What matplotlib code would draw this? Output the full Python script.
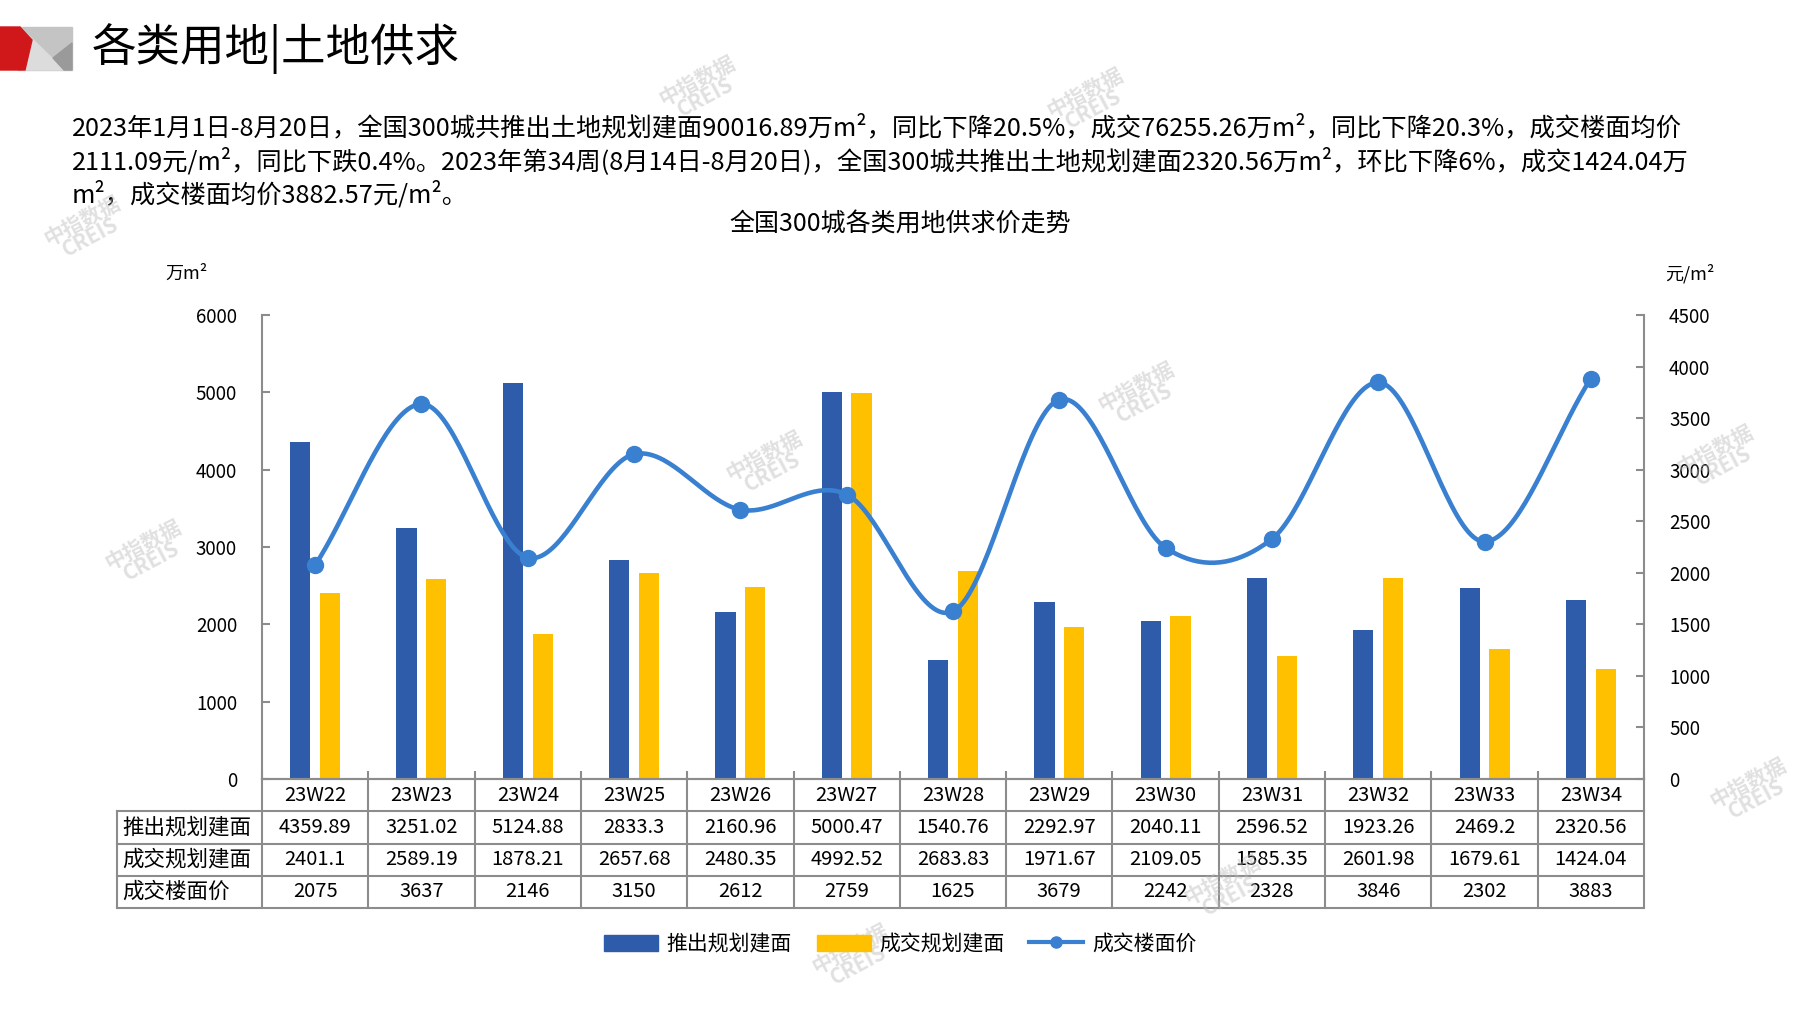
"""Land supply/transaction/price chart for 300 cities, weeks 23W22-23W34."""
import matplotlib
matplotlib.use("Agg")
import matplotlib.pyplot as plt
from matplotlib.patches import Patch, Polygon
from matplotlib.lines import Line2D
import numpy as np

plt.rcParams['font.family'] = ['Noto Sans CJK SC', 'DejaVu Sans']

weeks = ["23W22", "23W23", "23W24", "23W25", "23W26", "23W27", "23W28",
         "23W29", "23W30", "23W31", "23W32", "23W33", "23W34"]
supply = [4359.89, 3251.02, 5124.88, 2833.3, 2160.96, 5000.47, 1540.76,
          2292.97, 2040.11, 2596.52, 1923.26, 2469.2, 2320.56]
deals = [2401.1, 2589.19, 1878.21, 2657.68, 2480.35, 4992.52, 2683.83,
         1971.67, 2109.05, 1585.35, 2601.98, 1679.61, 1424.04]
price = [2075, 3637, 2146, 3150, 2612, 2759, 1625, 3679, 2242, 2328, 3846,
         2302, 3883]
supply_txt = ["4359.89", "3251.02", "5124.88", "2833.3", "2160.96", "5000.47",
              "1540.76", "2292.97", "2040.11", "2596.52", "1923.26", "2469.2",
              "2320.56"]
deals_txt = ["2401.1", "2589.19", "1878.21", "2657.68", "2480.35", "4992.52",
             "2683.83", "1971.67", "2109.05", "1585.35", "2601.98", "1679.61",
             "1424.04"]
row_names = ["推出规划建面", "成交规划建面", "成交楼面价"]

BLUE = "#2E5BAA"
YELLOW = "#FFC000"
LINE = "#3A80D0"
GRID = "#8C8C8C"
NUM_FONT = ['Liberation Sans Narrow', 'Noto Sans CJK SC']
W, H = 1797, 1010


def smooth(xs, ys, n=40):
    """Catmull-Rom style curve through the points (like Excel smoothed line)."""
    p = np.column_stack([xs, ys]).astype(float)
    m = np.zeros_like(p)
    m[1:-1] = (p[2:] - p[:-2]) / 2
    m[0] = p[1] - p[0]
    m[-1] = p[-1] - p[-2]
    out = []
    t = np.linspace(0, 1, n)[:, None]
    for i in range(len(p) - 1):
        h00 = 2 * t**3 - 3 * t**2 + 1
        h10 = t**3 - 2 * t**2 + t
        h01 = -2 * t**3 + 3 * t**2
        h11 = t**3 - t**2
        seg = h00 * p[i] + h10 * m[i] + h01 * p[i + 1] + h11 * m[i + 1]
        out.append(seg if i == 0 else seg[1:])
    out = np.vstack(out)
    return out[:, 0], out[:, 1]


fig = plt.figure(figsize=(W / 100, H / 100), dpi=100)

# logo
logo = fig.add_axes([0, 1 - 72 / H, 74 / W, 46 / H])
logo.set_xlim(0, 74)
logo.set_ylim(72, 26)
logo.axis("off")
logo.add_patch(Polygon([(18, 27), (72, 27), (72, 70), (18, 70)], color="#C4C4C4"))
logo.add_patch(Polygon([(20, 27), (64, 70), (22, 70)], color="#DCDCDC"))
logo.add_patch(Polygon([(72, 43), (72, 70), (64, 70), (53, 58)], color="#9A9A9A"))
logo.add_patch(Polygon([(0, 27), (20, 27), (32, 40), (25, 70), (0, 70)], color="#D0181B"))

fig.text(92 / W, 1 - 49 / H, "各类用地|土地供求", fontsize=32, va="center", ha="left")

para = ["2023年1月1日-8月20日，全国300城共推出土地规划建面90016.89万m²，同比下降20.5%，成交76255.26万m²，同比下降20.3%，成交楼面均价",
        "2111.09元/m²，同比下跌0.4%。2023年第34周(8月14日-8月20日)，全国300城共推出土地规划建面2320.56万m²，环比下降6%，成交1424.04万",
        "m²，成交楼面均价3882.57元/m²。"]
for i, line in enumerate(para):
    fig.text(72 / W, 1 - (128 + 33.5 * i) / H, line, fontsize=18.2,
             va="center", ha="left", family=NUM_FONT)

fig.text(900 / W, 1 - 225 / H, "全国300城各类用地供求价走势", fontsize=18,
         ha="center", va="center")

# main axes
ax = fig.add_axes([262 / W, 1 - 779 / H, (1644 - 262) / W, (779 - 315) / H])
x = np.arange(len(weeks))
ax.bar(x - 0.14, supply, width=0.19, color=BLUE, zorder=2)
ax.bar(x + 0.14, deals, width=0.19, color=YELLOW, zorder=2)
ax.set_xlim(-0.5, len(weeks) - 0.5)
ax.set_ylim(0, 6000)
ax.set_yticks(range(0, 6001, 1000))
ax.set_xticks(np.arange(len(weeks) + 1) - 0.5)
ax.set_xticklabels([])
ax.tick_params(axis="x", direction="in", length=6, color=GRID, width=1.5)
ax.tick_params(axis="y", direction="in", length=6, color=GRID, width=1.5,
               labelsize=13.5, pad=18)
for s in ["top", "right"]:
    ax.spines[s].set_visible(False)
for s in ["left", "bottom"]:
    ax.spines[s].set_color(GRID)
    ax.spines[s].set_linewidth(1.5)

ax2 = ax.twinx()
ax2.set_ylim(0, 4500)
ax2.set_yticks(range(0, 4501, 500))
ax2.tick_params(axis="y", direction="in", length=6, color=GRID, width=1.5,
                labelsize=13.5, pad=18)
for s in ["top", "left", "bottom"]:
    ax2.spines[s].set_visible(False)
ax2.spines["right"].set_color(GRID)
ax2.spines["right"].set_linewidth(1.5)
sx, sy = smooth(x, price)
ax2.plot(sx, sy, color=LINE, lw=3.3, zorder=3, solid_capstyle="round")
ax2.plot(x, price, "o", color=LINE, ms=11.5, zorder=4)

fig.text(186 / W, 1 - 274 / H, "万m²", fontsize=13, ha="center", va="center")
fig.text(1690 / W, 1 - 274 / H, "元/m²", fontsize=13, ha="center", va="center")

# data table under the chart
left_x = -0.5 - (262 - 117) / ((1644 - 262) / len(weeks))
tax = fig.add_axes([117 / W, 1 - 908 / H, (1644 - 117) / W, (908 - 779) / H])
tax.set_xlim(left_x, len(weeks) - 0.5)
tax.set_ylim(4, 0)
tax.axis("off")
n = len(weeks)
tax.plot([-0.5, n - 0.5], [0, 0], color=GRID, lw=1.5, clip_on=False)
for r in range(1, 5):
    tax.plot([left_x, n - 0.5], [r, r], color=GRID, lw=1.5, clip_on=False)
tax.plot([left_x, left_x], [1, 4], color=GRID, lw=1.5, clip_on=False)
for k in range(n + 1):
    tax.plot([k - 0.5, k - 0.5], [0, 4], color=GRID, lw=1.5, clip_on=False)
rows = [supply_txt, deals_txt, [str(p) for p in price]]
for i, w in enumerate(weeks):
    tax.text(i, 0.5, w, ha="center", va="center", fontsize=14.5, family=NUM_FONT)
    for r, vals in enumerate(rows):
        tax.text(i, r + 1.5, vals[i], ha="center", va="center", fontsize=14.5,
                 family=NUM_FONT)
for r, name in enumerate(row_names):
    tax.text(left_x + 0.05, r + 1.5, name, ha="left", va="center", fontsize=15.5)

handles = [Patch(color=BLUE, label="推出规划建面"),
           Patch(color=YELLOW, label="成交规划建面"),
           Line2D([], [], color=LINE, lw=3, marker="o", ms=8, label="成交楼面价")]
fig.legend(handles=handles, loc="center", bbox_to_anchor=(900 / W, 1 - 944 / H),
           ncol=3, frameon=False, fontsize=15, handlelength=2.6,
           handleheight=0.8, columnspacing=1.2, handletextpad=0.4)

# faint watermarks
marks = [(701, 89), (1089, 101), (86, 229), (147, 553), (768, 464),
         (1140, 395), (1719, 458), (1752, 791), (854, 957), (1226, 888)]
for mx, my in marks:
    fig.text(mx / W, 1 - my / H, "中指数据\nCREIS", fontsize=15, color="#BBBBBB",
             alpha=0.45, rotation=28, ha="center", va="center",
             fontweight="bold", linespacing=0.8)

fig.savefig("out.png", dpi=100)
